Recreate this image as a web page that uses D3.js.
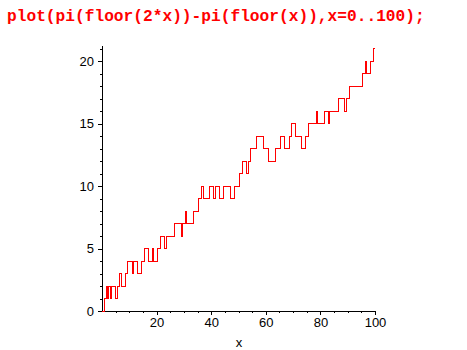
<!DOCTYPE html>
<html>
<head>
<meta charset="utf-8">
<script src="https://cdn.jsdelivr.net/npm/d3@7"></script>
<style>
  body { margin: 0; background: #fff; }
  .tick text { font-family: "Liberation Sans", Arial, sans-serif; font-size: 13px; fill: #000; }
  .domain, .tick line { stroke: #000; shape-rendering: crispEdges; }
</style>
</head>
<body>
<svg width="467" height="350"></svg>
<script>
// command shown above the plot
const title = "plot(pi(floor(2*x))-pi(floor(x)),x=0..100);";

// step value on each half-unit interval [k/2, (k+1)/2), k = 0..200
const stepValues = [
  0,0, 1,2, 1,2, 1,2, 2,2, 1,2, 2,3, 2,2, 2,3, 3,4,
  4,4, 3,4, 4,4, 3,3, 3,4, 4,5, 5,5, 4,4, 4,5, 4,4,
  4,5, 5,6, 6,6, 5,6, 6,6, 6,6, 6,7, 7,7, 7,7, 6,7,
  7,8, 7,7, 7,7, 7,8, 8,8, 8,9, 9,10, 9,9, 9,9, 9,10,
  10,10, 9,10, 10,10, 9,9, 9,10, 10,10, 10,10, 9,9, 9,10, 10,10,
  10,11, 11,12, 12,12, 11,12, 12,13, 13,13, 13,14, 14,14, 14,14, 13,13,
  13,13, 12,12, 12,12, 12,13, 13,13, 13,14, 14,14, 13,13, 13,14, 14,15,
  15,15, 14,14, 14,14, 13,13, 13,14, 14,15, 15,15, 15,15, 15,16, 15,15,
  15,15, 15,16, 16,16, 15,16, 16,16, 16,16, 16,17, 17,17, 17,17, 16,17,
  17,18, 18,18, 18,18, 18,18, 18,18, 18,19, 19,20, 19,19, 19,20, 20,21,
  21
];

const xMajor = [20, 40, 60, 80, 100];
const xMinor = [5, 10, 15, 25, 30, 35, 45, 50, 55, 65, 70, 75, 85, 90, 95];
const yMajor = [0, 5, 10, 15, 20];
const yMinor = [1, 2, 3, 4, 6, 7, 8, 9, 11, 12, 13, 14, 16, 17, 18, 19, 21];

const svg = d3.select("svg");

const x = d3.scaleLinear().domain([0, 100]).range([102, 375]);
const y = d3.scaleLinear().domain([0, 21.3]).range([311, 45]);

svg.append("text")
    .attr("x", 7).attr("y", 21)
    .attr("fill", "#ff0000")
    .attr("font-family", "'Liberation Mono', 'Courier New', monospace")
    .attr("font-weight", "bold")
    .attr("font-size", "16.2px")
    .text(title);

// x axis, minor then major
svg.append("g")
    .attr("transform", "translate(0," + y(0) + ")")
    .call(d3.axisBottom(x).tickValues(xMinor).tickSize(2).tickSizeOuter(0).tickFormat(""));
svg.append("g")
    .attr("transform", "translate(0," + y(0) + ")")
    .call(d3.axisBottom(x).tickValues(xMajor).tickSize(4).tickSizeOuter(0).tickPadding(3));

// y axis
svg.append("g")
    .attr("transform", "translate(" + x(0) + ",0)")
    .call(d3.axisLeft(y).tickValues(yMinor).tickSize(2).tickSizeOuter(0).tickFormat(""));
svg.append("g")
    .attr("transform", "translate(" + x(0) + ",0)")
    .call(d3.axisLeft(y).tickValues(yMajor).tickSize(4).tickSizeOuter(0).tickPadding(4));

svg.selectAll(".domain").attr("stroke-width", 1);

svg.append("text")
    .attr("x", 239).attr("y", 347)
    .attr("text-anchor", "middle")
    .attr("font-family", "'Liberation Sans', Arial, sans-serif")
    .attr("font-size", "13px")
    .text("x");

const line = d3.line()
    .x((d, i) => x(i / 2))
    .y(d => y(d))
    .curve(d3.curveStepAfter);

svg.append("path")
    .datum(stepValues)
    .attr("fill", "none")
    .attr("stroke", "#ff0000")
    .attr("stroke-width", 1)
    .attr("shape-rendering", "crispEdges")
    .attr("d", line);
</script>
</body>
</html>
